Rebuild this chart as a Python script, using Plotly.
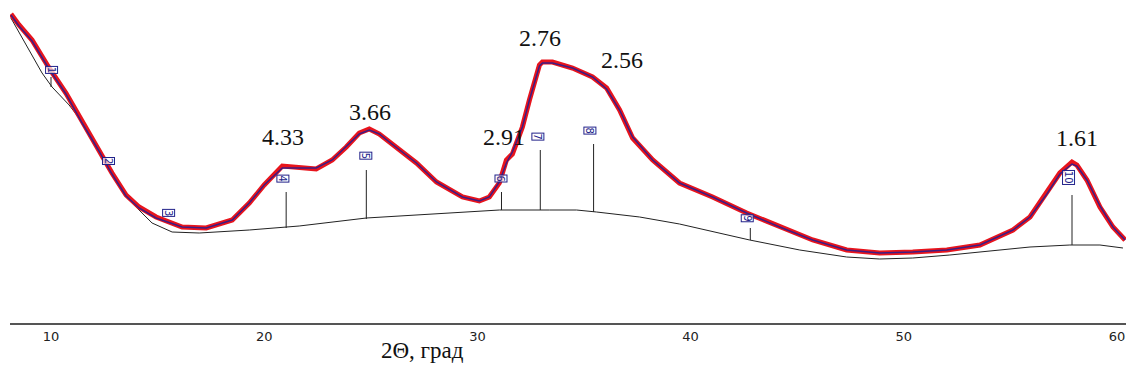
import plotly.graph_objects as go

# ---- data (2theta in degrees, intensity in arbitrary units) ----
theta = [8.12, 8.50, 9.11, 9.91, 10.70, 11.46, 12.25, 12.86, 13.52, 14.13, 14.93, 16.15,
         17.28, 18.50, 19.30, 20.00, 20.85, 21.64, 22.44, 23.19, 23.85, 24.46, 24.93, 25.40,
         25.87, 26.48, 27.14, 28.08, 29.30, 30.09, 30.56, 31.03, 31.36, 31.64, 32.11, 32.44,
         32.91, 33.05, 33.52, 34.46, 35.40, 36.06, 36.67, 37.28, 38.22, 39.48, 41.03, 42.63,
         44.18, 45.73, 47.32, 48.87, 50.42, 52.02, 53.57, 55.12, 55.92, 56.71, 57.32, 57.89,
         58.12, 58.59, 59.20, 59.81, 60.38]
intensity = [309, 298, 283, 255, 230, 201, 173, 150, 128, 116, 106, 96,
             95, 103, 120, 138, 157, 155, 154, 163, 176, 190, 194, 189,
             181, 171, 160, 141, 126, 122, 126, 140, 163, 169, 196, 223,
             258, 261, 261, 255, 246, 235, 213, 185, 163, 140, 126, 110,
             96, 83, 73, 70, 71, 73, 78, 93, 106, 130, 150, 161,
             158, 143, 116, 96, 83]
fit = [308, 297, 282, 254, 229, 200, 172, 149, 127, 115, 105, 96,
       95, 103, 120, 138, 155, 155, 155, 163, 176, 189, 193, 189,
       181, 171, 160, 141, 126, 122, 126, 141, 160, 171, 196, 223,
       257, 260, 260, 255, 246, 234, 213, 186, 163, 140, 126, 110,
       96, 83, 73, 70, 71, 73, 78, 93, 106, 129, 149, 159,
       157, 143, 117, 96, 83]

bg_theta = [8.12, 9.58, 10.05, 10.85, 11.78, 12.86, 13.80, 14.74, 15.68, 16.95, 19.30,
            21.64, 24.79, 28.69, 31.03, 33.38, 34.65, 35.59, 37.61, 39.48, 42.77, 45.12,
            47.32, 48.87, 50.42, 52.16, 53.57, 55.92, 57.79, 59.20, 60.28]
bg_int = [305, 250, 236, 218, 192, 150, 120, 100, 91, 90, 93,
          97, 105, 110, 113, 113, 113, 111, 106, 99, 83, 73,
          66, 64, 65, 68, 71, 76, 78, 78, 75]

# peak markers
peak_num = ["1", "2", "3", "4", "5", "6", "7", "8", "9", "10"]
peak_pos = [10.0, 12.72, 15.54, 21.03, 24.79, 31.13, 32.95, 35.45, 42.80, 57.89]
peak_base = [236, 162, 92, 95, 104, 113, 113, 111, 83, 78]
peak_top = [246, 162, 92, 131, 153, 131, 173, 179, 95, 128]
box_pos = [10.05, 12.72, 15.54, 20.90, 24.79, 31.13, 32.86, 35.30, 42.68, 57.75]
box_int = [253, 162, 110, 144, 167, 144, 186, 192, 105, 146]

# d-spacing labels
d_text = ["4.33", "3.66", "2.91", "2.76", "2.56", "1.61"]
d_pos = [20.90, 24.98, 31.27, 32.95, 36.80, 58.12]
d_int = [186, 211, 186, 285, 263, 185]

x_ticks = [10, 20, 30, 40, 50, 60]

fig = go.Figure()
fig.add_trace(go.Scatter(x=bg_theta, y=bg_int, mode="lines", line=dict(color="#222222", width=1),
                         hoverinfo="skip", showlegend=False))
fig.add_trace(go.Scatter(x=theta, y=intensity, mode="lines", line=dict(color="#e8141c", width=5),
                         showlegend=False))
fig.add_trace(go.Scatter(x=theta, y=fit, mode="lines", line=dict(color="rgba(30,30,150,0.85)", width=1.5),
                         showlegend=False))

shapes = []
for px, b, t in zip(peak_pos, peak_base, peak_top):
    if t > b:
        shapes.append(dict(type="line", xref="x", yref="y", x0=px, x1=px, y0=b, y1=t,
                           line=dict(color="#222222", width=1)))
fig.update_layout(shapes=shapes)

for n, bx, bi in zip(peak_num, box_pos, box_int):
    fig.add_annotation(x=bx, y=bi, text=n, showarrow=False, textangle=90,
                       font=dict(family="DejaVu Sans", size=10, color="#22228a"),
                       bordercolor="#22228a", borderwidth=1, borderpad=0,
                       bgcolor="rgba(255,255,255,0.7)")

for t, dx, di in zip(d_text, d_pos, d_int):
    fig.add_annotation(x=dx, y=di, text=t, showarrow=False,
                       font=dict(family="Liberation Serif", size=24, color="#111111"))

fig.add_annotation(xref="paper", yref="paper", x=(422 - 10) / 1116, y=-27 / 323,
                   text="2Θ, град", showarrow=False, yanchor="middle",
                   font=dict(family="Liberation Serif", size=23, color="#111111"))

x0 = 10 - (51 - 10) / 21.32
x1 = x0 + 1116 / 21.32
fig.update_xaxes(range=[x0, x1], tickvals=x_ticks, ticktext=[str(v) for v in x_ticks],
                 showgrid=False, zeroline=False, showline=True, linecolor="#555555", linewidth=2,
                 ticks="", automargin=False,
                 tickfont=dict(family="DejaVu Sans", size=13, color="#222222"))
fig.update_yaxes(range=[0, 323], visible=False, showgrid=False, zeroline=False)
fig.update_layout(width=1126, height=380, margin=dict(l=10, r=0, t=0, b=57),
                  paper_bgcolor="white", plot_bgcolor="white", showlegend=False)

fig.write_html("out.html", config={"displayModeBar": False},
               post_script="document.body.style.margin='0';")
